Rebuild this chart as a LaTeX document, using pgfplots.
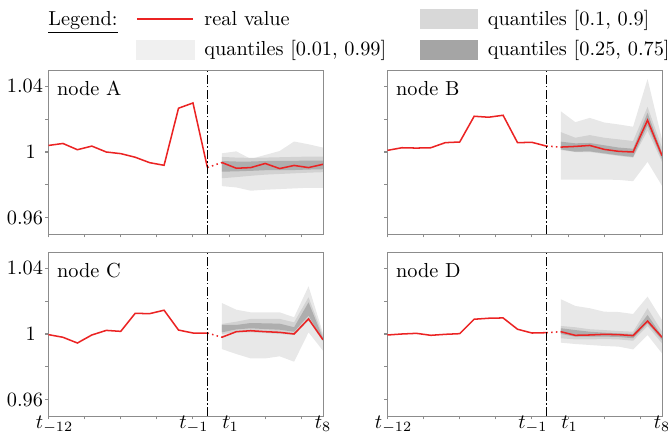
\documentclass[border=0pt]{standalone}
\usepackage{pgfplots}
\pgfplotsset{compat=1.18}

\definecolor{realred}{RGB}{235,35,35}
\definecolor{qout}{RGB}{232,232,232}
\definecolor{qmid}{RGB}{210,210,210}
\definecolor{qin}{RGB}{174,174,174}
\definecolor{lgout}{RGB}{240,240,240}
\definecolor{lgmid}{RGB}{216,216,216}
\definecolor{lgin}{RGB}{165,165,165}

\pgfplotsset{
  panel/.style={
    scale only axis, width=135.22pt, height=80.79pt, anchor=south west,
    xmin=0, xmax=19, ymin=0.95, ymax=1.05,
    axis line style={black!45},
    tick style={black!45, line width=0.5pt},
    tick align=outside, major tick length=1.7pt,
    xtick pos=bottom, ytick pos=left,
    xtick={0,2.5,5,7.5,10,12.5,15,17.5}, xticklabels={},
    ytick={0.96,0.98,1,1.02,1.04}, yticklabels={},
    yticklabel style={inner xsep=0.8pt},
  },
  ylab/.style={yticklabels={$0.96$,,$1\hspace{3.6pt}$,,$1.04$}},
  xlab/.style={
    extra x ticks={0.42,10.07,12.6,19},
    extra x tick labels={$t_{-12}$,$t_{-1}$,$t_1$,$t_8$},
    extra x tick style={major tick length=0pt, xticklabel style={inner sep=0pt}},
  },
  band out/.style={fill=qout, draw=none},
  band mid/.style={fill=qmid, draw=none},
  band in/.style={fill=qin, draw=none},
  real/.style={realred, line width=0.75pt},
  link/.style={realred, line width=0.75pt, dash pattern=on 0.75pt off 1.6pt},
  split/.style={black, line width=0.7pt, dash pattern=on 4.5pt off 1.1pt on 0.7pt off 1.1pt},
}
% t_{-12} ... t_{-1} at x = 0 ... 11, t_1 ... t_8 at x = 12 ... 19
\newcommand{\splitline}{\addplot[split] coordinates {(11,0.95) (11,1.05)};}

\begin{document}
\begin{tikzpicture}
\path[use as bounding box] (0pt,0pt) rectangle (329.06pt,-214.28pt);

% ---------------- node A
\begin{axis}[panel, ylab, at={(23.89pt,-115.27pt)}]
\addplot[band out] coordinates {(12,0.9992) (13,1.0004) (14,0.9958) (15,0.9982) (16,1.0006) (17,1.0064) (18,1.0047) (19,1.0027)
  (19,0.9782) (18,0.9782) (17,0.9778) (16,0.9774) (15,0.9770) (14,0.9764) (13,0.9784) (12,0.9792)};
\addplot[band mid] coordinates {(12,0.9970) (13,0.9966) (14,0.9964) (15,0.9966) (16,0.9968) (17,0.9970) (18,0.9972) (19,0.9972)
  (19,0.9877) (18,0.9874) (17,0.9870) (16,0.9866) (15,0.9862) (14,0.9855) (13,0.9847) (12,0.9840)};
\addplot[band in] coordinates {(12,0.9945) (13,0.9942) (14,0.9942) (15,0.9945) (16,0.9946) (17,0.9946) (18,0.9948) (19,0.9948)
  (19,0.9895) (18,0.9893) (17,0.9890) (16,0.9890) (15,0.9889) (14,0.9885) (13,0.9882) (12,0.9880)};
\addplot[real] coordinates {(0,1.0040) (1,1.0052) (2,1.0014) (3,1.0036) (4,1.0000) (5,0.9990) (6,0.9968) (7,0.9935) (8,0.9919) (9,1.0267) (10,1.0299) (11,0.9905)};
\addplot[link] coordinates {(11,0.9905) (12,0.9936)};
\addplot[real] coordinates {(12,0.9936) (13,0.9901) (14,0.9905) (15,0.9930) (16,0.9899) (17,0.9918) (18,0.9905) (19,0.9925)};
\splitline
\node[anchor=base west, inner sep=0pt] at (rel axis cs:0.03,0.845) {node A};
\end{axis}

% ---------------- node B
\begin{axis}[panel, at={(190.88pt,-115.27pt)}]
\addplot[band out] coordinates {(12,1.0248) (13,1.0182) (14,1.0208) (15,1.0180) (16,1.0168) (17,1.0154) (18,1.0445) (19,1.0077)
  (19,0.9794) (18,0.9940) (17,0.9822) (16,0.9830) (15,0.9832) (14,0.9832) (13,0.9832) (12,0.9832)};
\addplot[band mid] coordinates {(12,1.0121) (13,1.0087) (14,1.0103) (15,1.0087) (16,1.0077) (17,1.0067) (18,1.0275) (19,1.0027)
  (19,0.9940) (18,1.0130) (17,0.9966) (16,0.9976) (15,0.9988) (14,1.0000) (13,1.0000) (12,1.0012)};
\addplot[band in] coordinates {(12,1.0063) (13,1.0053) (14,1.0055) (15,1.0041) (16,1.0027) (17,1.0020) (18,1.0239) (19,0.9996)
  (19,0.9956) (18,1.0162) (17,0.9970) (16,0.9980) (15,0.9992) (14,1.0004) (13,1.0002) (12,1.0016)};
\addplot[real] coordinates {(0,1.0010) (1,1.0026) (2,1.0024) (3,1.0026) (4,1.0057) (5,1.0061) (6,1.0218) (7,1.0212) (8,1.0224) (9,1.0057) (10,1.0059) (11,1.0036)};
\addplot[link] coordinates {(11,1.0036) (12,1.0030)};
\addplot[real] coordinates {(12,1.0030) (13,1.0034) (14,1.0040) (15,1.0016) (16,1.0004) (17,1.0000) (18,1.0194) (19,0.9978)};
\splitline
\node[anchor=base west, inner sep=0pt] at (rel axis cs:0.03,0.845) {node B};
\end{axis}

% ---------------- node C
\begin{axis}[panel, ylab, xlab, at={(23.89pt,-204.92pt)}]
\addplot[band out] coordinates {(12,1.0189) (13,1.0148) (14,1.0132) (15,1.0132) (16,1.0132) (17,1.0102) (18,1.0291) (19,1.0005)
  (19,0.9898) (18,1.0010) (17,0.9831) (16,0.9864) (15,0.9851) (14,0.9851) (13,0.9878) (12,0.9908)};
\addplot[band mid] coordinates {(12,1.0061) (13,1.0075) (14,1.0092) (15,1.0092) (16,1.0092) (17,1.0071) (18,1.0224) (19,0.9990)
  (19,0.9955) (18,1.0081) (17,0.9994) (16,1.0000) (15,1.0006) (14,1.0010) (13,1.0010) (12,1.0000)};
\addplot[band in] coordinates {(12,1.0055) (13,1.0055) (14,1.0067) (15,1.0065) (16,1.0063) (17,1.0041) (18,1.0193) (19,0.9975)
  (19,0.9962) (18,1.0112) (17,1.0014) (16,1.0026) (15,1.0030) (14,1.0035) (13,1.0028) (12,1.0010)};
\addplot[real] coordinates {(0,0.9996) (1,0.9980) (2,0.9945) (3,0.9994) (4,1.0022) (5,1.0016) (6,1.0126) (7,1.0124) (8,1.0145) (9,1.0024) (10,1.0006) (11,1.0006)};
\addplot[link] coordinates {(11,1.0006) (12,0.9980)};
\addplot[real] coordinates {(12,0.9980) (13,1.0014) (14,1.0020) (15,1.0014) (16,1.0010) (17,1.0000) (18,1.0092) (19,0.9965)};
\splitline
\node[anchor=base west, inner sep=0pt] at (rel axis cs:0.03,0.845) {node C};
\end{axis}

% ---------------- node D
\begin{axis}[panel, xlab, at={(190.88pt,-204.92pt)}]
\addplot[band out] coordinates {(12,1.0212) (13,1.0171) (14,1.0157) (15,1.0136) (16,1.0134) (17,1.0122) (18,1.0228) (19,1.0086)
  (19,0.9882) (18,0.9994) (17,0.9906) (16,0.9923) (15,0.9927) (14,0.9933) (13,0.9939) (12,0.9947)};
\addplot[band mid] coordinates {(12,1.0049) (13,1.0041) (14,1.0029) (15,1.0024) (16,1.0018) (17,1.0014) (18,1.0157) (19,1.0014)
  (19,0.9943) (18,1.0049) (17,0.9959) (16,0.9967) (15,0.9969) (14,0.9967) (13,0.9967) (12,0.9974)};
\addplot[band in] coordinates {(12,1.0035) (13,1.0024) (14,1.0014) (15,1.0008) (16,1.0004) (17,1.0000) (18,1.0116) (19,0.9988)
  (19,0.9963) (18,1.0065) (17,0.9974) (16,0.9982) (15,0.9984) (14,0.9984) (13,0.9984) (12,1.0000)};
\addplot[real] coordinates {(0,0.9994) (1,1.0000) (2,1.0004) (3,0.9992) (4,0.9998) (5,1.0002) (6,1.0090) (7,1.0096) (8,1.0098) (9,1.0029) (10,1.0006) (11,1.0008)};
\addplot[link] coordinates {(11,1.0008) (12,1.0014)};
\addplot[real] coordinates {(12,1.0014) (13,0.9992) (14,0.9994) (15,0.9998) (16,0.9996) (17,0.9990) (18,1.0079) (19,0.9980)};
\splitline
\node[anchor=base west, inner sep=0pt] at (rel axis cs:0.03,0.845) {node D};
\end{axis}

% ---------------- legend
\begin{axis}[
  at={(0pt,-214.28pt)}, anchor=south west, scale only axis,
  width=329.06pt, height=214.28pt, hide axis,
  xmin=0, xmax=1, ymin=0, ymax=1,
  legend columns=2, legend cell align=left,
  legend style={at={(0.2028,0.9798)}, anchor=north west, draw=none, fill=none,
    inner sep=0pt, row sep=4.7pt, cells={anchor=west},
    nodes={inner sep=0pt, text height=7.5pt, text depth=2.5pt},
    /tikz/every odd column/.append style={column sep=5pt},
    /tikz/every even column/.append style={column sep=16.6pt}},
]
\addplot[draw=none, forget plot] coordinates {(0.5,0.5)};
\addlegendimage{legend image code/.code={\draw[realred, line width=1pt] (0pt,0.5pt) -- (27.6pt,0.5pt);}}
\addlegendentry{real value}
\addlegendimage{legend image code/.code={\fill[lgmid] (0pt,-4.3pt) rectangle (28.1pt,5.1pt);}}
\addlegendentry{quantiles [0.1, 0.9]}
\addlegendimage{legend image code/.code={\fill[lgout] (0pt,-4.3pt) rectangle (28.1pt,5.1pt);}}
\addlegendentry{quantiles [0.01, 0.99]}
\addlegendimage{legend image code/.code={\fill[lgin] (0pt,-4.3pt) rectangle (28.1pt,5.1pt);}}
\addlegendentry{quantiles [0.25, 0.75]}
\node[anchor=base west, inner sep=0pt] at (axis description cs:0.0719,0.9414) {\underline{Legend:}};
\end{axis}
\end{tikzpicture}
\end{document}
